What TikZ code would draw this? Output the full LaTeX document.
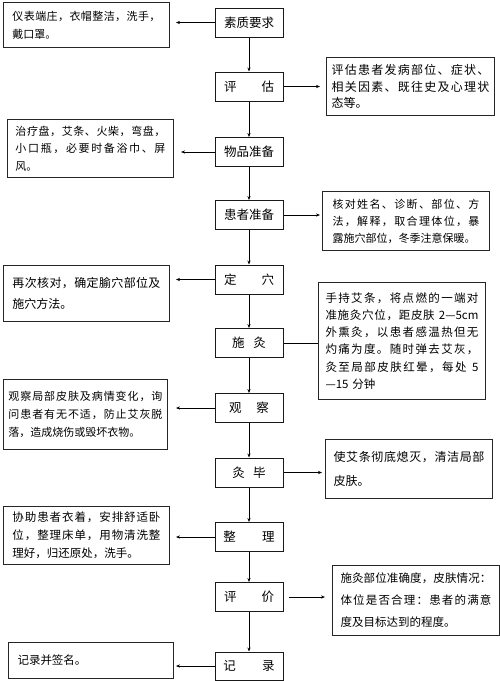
\documentclass[tikz,border=0pt]{standalone}
\usepackage{fontspec}
\setmainfont{Noto Sans CJK SC}
\usetikzlibrary{arrows.meta}
\makeatletter
\def\jst#1{\jst@a#1\jst@end}
\def\jst@a#1{#1\futurelet\jst@next\jst@b}
\def\jst@b{\ifx\jst@next\jst@end\expandafter\@gobble\else\hskip0pt plus 1fil\expandafter\jst@a\fi}
\makeatother
\newcommand\jl[1]{\makebox[\linewidth][s]{\jst{#1}}}
\tikzset{
  mainbox/.style={draw=black!90, line width=1pt, minimum width=68pt, minimum height=29pt,
    inner sep=0pt, font=\fontsize{12.5}{14}\selectfont},
  sidebox/.style={draw=black!85, line width=1pt, anchor=north west, inner ysep=0pt, align=left},
  arr/.style={draw=black, line width=0.8pt, -{Stealth[length=4pt,width=3.2pt]}},
  plain/.style={draw=black, line width=0.8pt}
}
\begin{document}
\begin{tikzpicture}[x=1pt,y=-1pt]
\useasboundingbox (0,0) rectangle (500,681);
% main column
\node[mainbox] (c1) at (249,22.5) {素质要求};
\node[mainbox] (c2) at (249,86.5) {评\hspace{2em}估};
\node[mainbox] (c3) at (249,152) {物品准备};
\node[mainbox] (c4) at (249,215) {患者准备};
\node[mainbox] (c5) at (249,279.5) {定\hspace{2em}穴};
\node[mainbox] (c6) at (249,343) {施\hspace{0.7em}灸};
\node[mainbox] (c7) at (249,408) {观\hspace{1.2em}察};
\node[mainbox] (c8) at (249,472.5) {灸\hspace{0.65em}毕};
\node[mainbox] (c9) at (249,537) {整\hspace{2.1em}理};
\node[mainbox] (c10) at (249,597) {评\hspace{2em}价};
\node[mainbox, minimum height=28pt] (c11) at (249,666) {记\hspace{2.1em}录};
% side boxes
\node[sidebox, minimum width=166pt, minimum height=45pt, inner xsep=9pt, text width=148pt,
  font=\fontsize{11}{18}\selectfont] (l1) at (3,2)
  {\jl{仪表端庄，衣帽整洁，洗手，}\\戴口罩。};
\node[sidebox, minimum width=168pt, minimum height=58pt, inner xsep=5pt, text width=158pt,
  font=\fontsize{12}{16.5}\selectfont] (r2) at (326,57)
  {\jl{评估患者发病部位、症状、}\\\jl{相关因素、既往史及心理状}\\态等。};
\node[sidebox, minimum width=166pt, minimum height=58pt, inner xsep=8pt, text width=150pt,
  font=\fontsize{11}{17.5}\selectfont] (l3) at (7,119)
  {\jl{治疗盘，艾条、火柴，弯盘，}\\\jl{小口瓶，必要时备浴巾、屏}\\风。};
\node[sidebox, minimum width=167pt, minimum height=59pt, inner xsep=10pt, text width=147pt,
  font=\fontsize{11}{17}\selectfont] (r4) at (322,191)
  {\jl{核对姓名、诊断、部位、方}\\\jl{法，解释，取合理体位，暴}\\露施穴部位，冬季注意保暖。};
\node[sidebox, minimum width=166pt, minimum height=56pt, inner xsep=9pt, text width=148pt,
  font=\fontsize{12}{21}\selectfont] (l5) at (3,265)
  {\jl{再次核对，确定腧穴部位及}\\施穴方法。};
\node[sidebox, minimum width=167pt, minimum height=117pt, inner xsep=7pt, text width=153pt,
  font=\fontsize{11.5}{17.2}\selectfont] (r6) at (318,282)
  {\jl{手持艾条，将点燃的一端对}\\\jl{准施灸穴位，距皮肤{\hspace{3.5pt}2—5cm}}\\\jl{外熏灸，以患者感温热但无}\\\jl{灼痛为度。随时弹去艾灰，}\\\jl{灸至局部皮肤红晕，每处{\hspace{4pt}5}}\\—15 分钟};
\node[sidebox, minimum width=164pt, minimum height=70pt, inner xsep=5pt, text width=154pt,
  font=\fontsize{11}{18}\selectfont] (l7) at (3,379)
  {\jl{观察局部皮肤及病情变化，询}\\\jl{问患者有无不适，防止艾灰脱}\\落，造成烧伤或毁坏衣物。};
\node[sidebox, minimum width=167pt, minimum height=59pt, inner xsep=8pt, text width=151pt,
  font=\fontsize{12}{24}\selectfont] (r8) at (325,439)
  {\jl{使艾条彻底熄灭，清洁局部}\\皮肤。};
\node[sidebox, minimum width=166pt, minimum height=58pt, inner xsep=9pt, text width=148pt,
  font=\fontsize{11.5}{18}\selectfont] (l9) at (3,506)
  {\jl{协助患者衣着，安排舒适卧}\\\jl{位，整理床单，用物清洗整}\\理好，归还原处，洗手。};
\node[sidebox, minimum width=167pt, minimum height=70pt, inner xsep=8pt, text width=151pt,
  font=\fontsize{11.5}{22}\selectfont] (r10) at (332,565)
  {\jl{施灸部位准确度，皮肤情况：}\\\jl{体位是否合理：患者的满意}\\度及目标达到的程度。};
\node[sidebox, minimum width=165pt, minimum height=36pt, inner xsep=9pt, text width=147pt,
  font=\fontsize{11.5}{18}\selectfont] (l11) at (8,642)
  {记录并签名。};
% vertical arrows
\foreach \a/\b in {c1/c2,c2/c3,c3/c4,c4/c5,c5/c6,c6/c7,c7/c8,c8/c9,c9/c10,c10/c11}
  \draw[arr] (\a.south) -- (\b.north);
% side connectors
\draw[arr, shorten >=6pt] (c1.west) -- (c1.west -| l1.east);
\draw[arr, shorten >=6pt] (c2.east) -- (c2.east -| r2.west);
\draw[arr, shorten >=7pt] (c3.west) -- (c3.west -| l3.east);
\draw[arr, shorten >=2pt] (c4.east) -- (c4.east -| r4.west);
\draw[arr, shorten >=6pt] (c5.west) -- (c5.west -| l5.east);
\draw[plain] (c6.east) -- (c6.east -| r6.west);
\draw[arr, shorten >=8pt] (c7.west) -- (c7.west -| l7.east);
\draw[arr, shorten >=3pt] (c8.east) -- (c8.east -| r8.west);
\draw[arr, shorten >=6pt] (c9.west) -- (c9.west -| l9.east);
\draw[arr, shorten <=5pt, shorten >=7pt] (c10.east) -- (c10.east -| r10.west);
\draw[arr, shorten >=2pt] (c11.west) -- (c11.west -| l11.east);
\end{tikzpicture}
\end{document}
